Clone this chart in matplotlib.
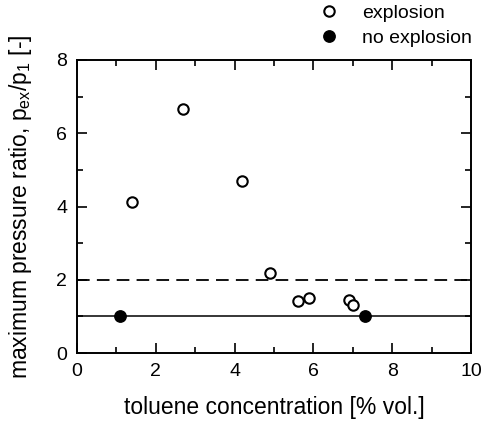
import matplotlib
matplotlib.use("Agg")
import matplotlib.pyplot as plt
from matplotlib.ticker import MultipleLocator
from matplotlib.lines import Line2D

plt.rcParams['font.family'] = ['Liberation Sans', 'DejaVu Sans']

# ─── Data ──────────────────────────────────────────────────────────────────────
expl_x = [1.4, 2.7, 4.2, 4.9, 5.6, 5.9, 6.9, 7.0]
expl_y = [4.12, 6.65, 4.7, 2.18, 1.42, 1.5, 1.45, 1.3]
noexpl_x = [1.1, 7.3]
noexpl_y = [1.0, 1.0]
dashed_level = 2.0
solid_level = 1.0

# ─── Figure ────────────────────────────────────────────────────────────────────
fig = plt.figure(figsize=(4.82, 4.32), dpi=100)
ax = fig.add_axes([77/482, 1 - 353/432, 394/482, 293/432])

ax.axhline(dashed_level, color='black', lw=1.3, ls=(0, (7, 4)), zorder=1)
ax.axhline(solid_level, color='black', lw=1.1, zorder=1)

ax.plot(expl_x, expl_y, 'o', mfc='white', mec='black', mew=1.5, ms=7.5, zorder=3)
ax.plot(noexpl_x, noexpl_y, 'o', mfc='black', mec='black', ms=8.2, zorder=3)

ax.set_xlim(0, 10)
ax.set_ylim(0, 8)
ax.xaxis.set_major_locator(MultipleLocator(2))
ax.xaxis.set_minor_locator(MultipleLocator(1))
ax.yaxis.set_major_locator(MultipleLocator(2))
ax.yaxis.set_minor_locator(MultipleLocator(1))
ax.tick_params(which='both', direction='in', top=True, right=True,
               width=1.2, labelsize=14, pad=7)
ax.tick_params(which='major', length=7)
ax.tick_params(which='minor', length=4)
for s in ax.spines.values():
    s.set_linewidth(1.4)

ax.set_xlabel('toluene concentration [% vol.]', fontsize=16.5, labelpad=12)
ax.set_ylabel(r'maximum pressure ratio, p$_{\mathregular{ex}}$/p$_{\mathregular{1}}$ [-]',
              fontsize=16.5, labelpad=16)

handles = [
    Line2D([], [], ls='none', marker='o', mfc='white', mec='black', mew=1.5, ms=7.5),
    Line2D([], [], ls='none', marker='o', mfc='black', mec='black', ms=8.2),
]
fig.legend(handles, ['explosion', 'no explosion'], loc='upper right',
           bbox_to_anchor=(1.0, 1.012), frameon=False, fontsize=14,
           handlelength=0.6, handletextpad=1.4, labelspacing=0.35,
           borderaxespad=0.1)

fig.savefig('out.png', dpi=100)
